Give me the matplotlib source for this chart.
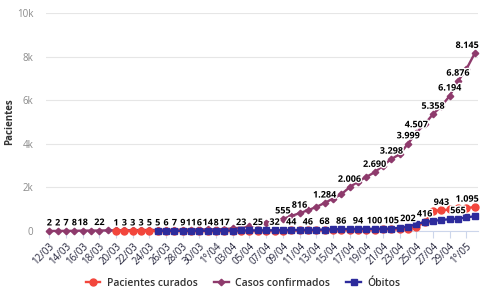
import matplotlib
matplotlib.use("Agg")
import matplotlib.pyplot as plt
import matplotlib.patheffects as pe

plt.rcParams['font.family'] = ['Open Sans', 'DejaVu Sans']

# one entry per day, 12/03 .. 02/05
dates = ['12/03', '13/03', '14/03', '15/03', '16/03', '17/03', '18/03', '19/03', '20/03', '21/03',
         '22/03', '23/03', '24/03', '25/03', '26/03', '27/03', '28/03', '29/03', '30/03', '31/03',
         '1°/04', '02/04', '03/04', '04/04', '05/04', '06/04', '07/04', '08/04', '09/04', '10/04',
         '11/04', '12/04', '13/04', '14/04', '15/04', '16/04', '17/04', '18/04', '19/04', '20/04',
         '21/04', '22/04', '23/04', '24/04', '25/04', '26/04', '27/04', '28/04', '29/04', '30/04',
         '1°/05', '02/05']

confirmados = [2, 2, 7, 8, 18, 19, 22, 28, 30, 33,
               37, 42, 46, 48, 56, 56, 68, 68, 73, 73,
               81, 92, 115, 166, 230, 310, 380, 460, 555, 687,
               816, 950, 1100, 1284, 1484, 1683, 2006, 2264, 2480, 2690,
               3000, 3298, 3519, 3999, 4507, 4898, 5358, 5724, 6194, 6876,
               7420, 8145]

# curados start on 20/03
curados_start = 8
curados = [1, 3, 3, 3, 5, 5, 5, 5, 5, 6,
           6, 6, 8, 8, 10, 12, 14, 16, 18, 20,
           22, 25, 28, 30, 34, 38, 42, 46, 50, 55,
           60, 65, 70, 75, 90, 110, 200, 400, 940, 943,
           990, 1040, 1060, 1095]

# obitos start on 25/03
obitos_start = 13
obitos = [5, 6, 7, 9, 11, 12, 14, 16, 17, 20,
          23, 24, 25, 29, 32, 38, 44, 45, 46, 56,
          68, 78, 86, 90, 94, 97, 100, 102, 105, 150,
          202, 310, 416, 460, 508, 540, 565, 620, 680]

# indexes (into dates) of the points that show a value label
label_confirmados = [0, 1, 2, 3, 4, 6, 28, 30, 33, 36, 39, 41, 43, 44, 46, 48, 49, 51]
label_curados = [8, 9, 10, 11, 12, 18, 20, 47, 51]
label_obitos = [13, 14, 15, 16, 17, 19, 21, 23, 25, 27, 29, 31, 33, 35, 37, 39, 41, 43, 45, 49]

red = '#f2463c'
purple = '#8e3a6c'
blue = '#2d2b9c'

fig = plt.figure(figsize=(4.86, 2.97), dpi=100)
ax = fig.add_axes([46 / 486, 1 - 231 / 297, (478 - 46) / 486, (231 - 13) / 297])

x = list(range(len(dates)))
x_cur = x[curados_start:]
x_obi = x[obitos_start:]

l_conf, = ax.plot(x, confirmados, color=purple, lw=1.7, marker='D', ms=3.3,
                  zorder=3, clip_on=False)
l_cur, = ax.plot(x_cur, curados, color=red, lw=1.7, marker='o', ms=5,
                 zorder=4, clip_on=False)
l_obi, = ax.plot(x_obi, obitos, color=blue, lw=1.7, marker='s', ms=5,
                 zorder=5, clip_on=False)


def fmt(v):
    return f"{v:,}".replace(',', '.')


def put_labels(idx_list, xs, ys):
    for i in idx_list:
        k = xs.index(i)
        v = ys[k]
        if i == len(dates) - 1:
            ha, dx = 'right', 2.8
        else:
            ha, dx = 'center', 0
        ax.annotate(fmt(v), (i, v), xytext=(dx, 2.5), textcoords='offset points',
                    ha=ha, va='bottom', fontsize=6.5, fontweight='bold', color='black',
                    path_effects=[pe.withStroke(linewidth=2, foreground='white')],
                    zorder=10, annotation_clip=False)


put_labels(label_confirmados, x, confirmados)
put_labels(label_curados, x_cur, curados)
put_labels(label_obitos, x_obi, obitos)

ax.set_xlim(-0.4, 51.4)
ax.set_ylim(0, 10000)

ax.set_yticks([0, 2000, 4000, 6000, 8000, 10000])
ax.set_yticklabels(['0', '2k', '4k', '6k', '8k', '10k'])
ax.tick_params(axis='y', length=0, labelsize=7, labelcolor='#8a8a8a', pad=9)
ax.yaxis.grid(True, color='#e6e6e6', lw=0.8)
ax.set_axisbelow(True)

ax.set_xticks(x[::2])
ax.set_xticklabels(dates[::2])
ax.tick_params(axis='x', length=5, width=0.8, color='#ccd6eb', labelsize=7,
               labelcolor='#22223a', pad=2)
for lbl in ax.get_xticklabels():
    lbl.set_rotation(45)
    lbl.set_ha('right')
    lbl.set_va('top')
    lbl.set_rotation_mode('anchor')

for s in ['top', 'right', 'left']:
    ax.spines[s].set_visible(False)
ax.spines['bottom'].set_color('#ccd6eb')
ax.spines['bottom'].set_linewidth(0.8)

fig.text(10 / 486, 1 - 122 / 297, 'Pacientes', rotation=90, va='center', ha='center',
         fontsize=7, fontweight='bold', color='#333333')

leg = fig.legend([l_cur, l_conf, l_obi], ['Pacientes curados', 'Casos confirmados', 'Óbitos'],
                 loc='center', bbox_to_anchor=(243 / 486, 1 - 283 / 297), ncol=3,
                 frameon=False, handlelength=1.4, columnspacing=1.6, handletextpad=0.6,
                 prop={'size': 7.5, 'weight': 'semibold'})
for t in leg.get_texts():
    t.set_color('#333333')

fig.savefig('out.png', dpi=100)
